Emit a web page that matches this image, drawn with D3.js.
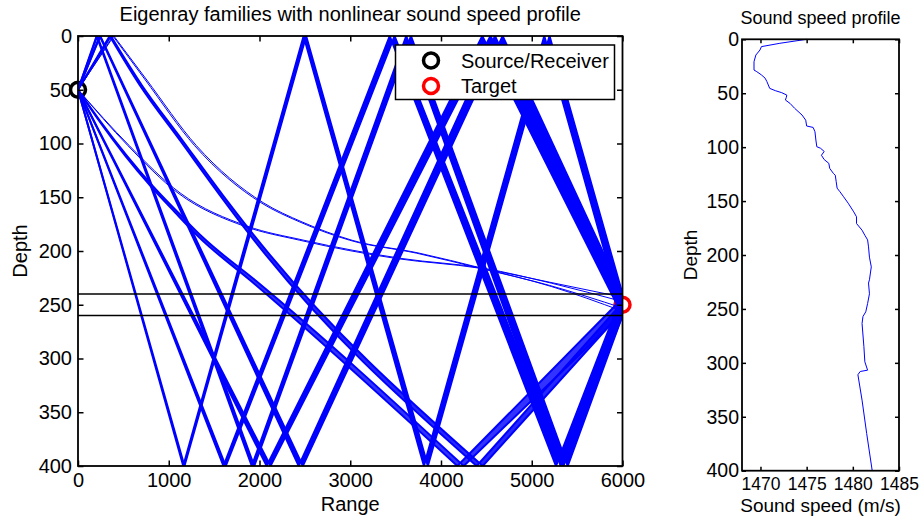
<!DOCTYPE html>
<html>
<head>
<meta charset="utf-8">
<script src="https://cdn.jsdelivr.net/npm/d3@7"></script>
<style>
  body { margin: 0; background: #fff; }
  text { font-family: "Liberation Sans", Arial, Helvetica, sans-serif; fill: #000; }
</style>
</head>
<body>
<svg id="chart" width="924" height="521"></svg>
<script>
// ---- data ----
const rangeTicks = [0, 1000, 2000, 3000, 4000, 5000, 6000]
const depthTicks = [0, 50, 100, 150, 200, 250, 300, 350, 400]
const speedTicks = [1470, 1475, 1480, 1485]
const targetZone = [240, 260]
const source = [0, 50]
const target = [6000, 250]
const legendLabels = ['Source/Receiver', 'Target']

// sound speed profile
const ssDepth = [0, 3.7, 6.8, 9.9, 14.6, 20.8, 28.5, 30, 33, 36, 39.3, 45.5, 47.6, 49.5, 51.7, 53.8, 56.3, 59.4, 64, 70.2,
  75, 80.4, 81.7, 85.7, 93.4, 99.6, 101, 104, 107.5, 111.5, 115, 119.7, 124.4, 126, 132, 138, 141.3, 146, 152, 160,
  164.6, 170.8, 177, 181.7, 186, 192.5, 202, 211, 223, 226, 236, 245, 252.7, 257, 263.5, 285, 299, 306.8, 308, 311,
  334.6, 365.5, 400]
const ssSpeed = [1475.0, 1472.1, 1470.1, 1469.95, 1469.5, 1469.3, 1469.3, 1469.6, 1470.1, 1470.5, 1470.7, 1471.0, 1471.6, 1472.3, 1472.85, 1472.8, 1472.7, 1473.2, 1473.7, 1474.5,
  1474.9, 1475.0, 1475.7, 1475.9, 1476.0, 1476.1, 1476.5, 1476.9, 1476.6, 1476.9, 1477.4, 1477.5, 1477.9, 1478.1, 1478.2, 1478.3, 1478.6, 1479.0, 1479.5, 1480.1,
  1480.4, 1480.4, 1481.0, 1481.3, 1481.6, 1481.7, 1481.8, 1482.0, 1481.8, 1481.7, 1481.8, 1481.6, 1481.4, 1481.1, 1481.0, 1481.2, 1481.3, 1481.6, 1480.8, 1480.55,
  1481.0, 1481.5, 1482.1]

// eigenray families: each one lists its edge rays as [range, depth] vertices
const ray45 = [
  [[0, 50], [1173, 400], [2514, 0], [3855, 400], [5196, 0], [6000, 240]],
  [[0, 50], [1160, 400], [2486, 0], [3812, 400], [5138, 0], [6000, 260]]
]
const ray35 = [
  [[0, 50], [205, 0], [1915, 400], [3617, 0], [5319, 400], [6000, 240]],
  [[0, 50], [212, 0], [1942, 400], [3669, 0], [5396, 400], [6000, 260]]
]
const ray325 = [
  [[0, 50], [1603, 400], [3435, 0], [5267, 400], [6000, 240]],
  [[0, 50], [1628, 400], [3488, 0], [5349, 400], [6000, 260]]
]
const ray275 = [
  [[0, 50], [245, 0], [2477, 400], [4679, 0], [6000, 240]],
  [[0, 50], [240, 0], [2432, 400], [4595, 0], [6000, 260]]
]
const ray25 = [
  [[0, 50], [2121, 400], [4545, 0], [6000, 240]],
  [[0, 50], [2079, 400], [4455, 0], [6000, 260]]
]
const ray125 = [
  [[0, 50], [242, 80], [517, 111], [793, 139], [1068, 164], [1343, 188], [1894, 227], [4180, 400], [6000, 244]],
  [[0, 50], [252, 80], [535, 111], [818, 139], [1100, 164], [1383, 188], [1950, 227], [4250, 400], [6000, 258]]
]
const ray15 = [
  [[0, 50], [349, 0], [683, 46], [1123, 97], [1563, 148], [1894, 185], [4393, 400], [6000, 248]],
  [[0, 50], [362, 0], [705, 46], [1150, 97], [1595, 148], [1935, 185], [4460, 400], [6000, 256]]
]
const ray05 = [
  [[0, 50], [550, 102], [1101, 146], [1835, 177], [2444, 190], [3509, 207], [4426, 216], [5196, 229], [6000, 243]],
  [[0, 50], [565, 102], [1125, 146], [1870, 177], [2490, 190], [3570, 207], [4470, 216], [5220, 230], [6000, 247]]
]
const ray075 = [
  [[0, 50], [385, 0], [734, 40], [1285, 102], [2015, 155], [2444, 173], [2994, 190], [3729, 202], [4426, 216], [5196, 232], [6000, 253]],
  [[0, 50], [395, 0], [750, 40], [1305, 102], [2040, 155], [2470, 173], [3020, 190], [3760, 202], [4450, 216], [5215, 233], [6000, 256]]
]
const bundles = [ray45, ray35, ray325, ray275, ray25, ray125, ray15]
const bundleOpacity = [1, 1, 1, 1, 1, 0.8, 0.85]
const thinRays = [ray05, ray075]

// ---- drawing ----
const svg = d3.select('#chart')
const blue = '#0000ff'

const x = d3.scaleLinear().domain([0, 6000]).range([78, 622.5])
const y = d3.scaleLinear().domain([0, 400]).range([36, 466])

const line = d3.line()
  .x(d => x(d[0]))
  .y(d => y(d[1]))
  .curve(d3.curveMonotoneX)

// split a ray at its surface / bottom bounces so corners stay sharp
function legs (pts) {
  const out = []
  let cur = [pts[0]]
  for (let i = 1; i < pts.length; i++) {
    cur.push(pts[i])
    const bounce = pts[i][1] === 0 || pts[i][1] === 400
    if (bounce && i < pts.length - 1) { out.push(cur); cur = [pts[i]] }
  }
  out.push(cur)
  return out
}
function rayPath (pts) {
  return legs(pts).map((l, i) => {
    const s = line(l)
    return i ? 'L' + s.slice(1) : s
  }).join('')
}

svg.append('defs').append('clipPath').attr('id', 'plotclip')
  .append('rect')
  .attr('x', x(0)).attr('y', y(0))
  .attr('width', x(6000) - x(0)).attr('height', y(400) - y(0))

// markers (drawn under the rays)
const markers = svg.append('g')
markers.append('circle')
  .attr('cx', x(source[0])).attr('cy', y(source[1])).attr('r', 7.5)
  .attr('fill', 'none').attr('stroke', '#000').attr('stroke-width', 3.5)
markers.append('circle')
  .attr('cx', x(target[0])).attr('cy', y(target[1])).attr('r', 7.5)
  .attr('fill', 'none').attr('stroke', '#ff0000').attr('stroke-width', 3.5)

const rays = svg.append('g').attr('clip-path', 'url(#plotclip)')
bundles.forEach((fam, i) => {
  const a = fam[0]
  const b = fam[1].slice().reverse()
  rays.append('path')
    .attr('d', rayPath(a) + 'L' + rayPath(b).slice(1) + 'Z')
    .attr('fill', blue)
    .attr('fill-opacity', bundleOpacity[i])
    .attr('stroke', 'none')
  fam.forEach(r => {
    rays.append('path')
      .attr('d', rayPath(r))
      .attr('fill', 'none')
      .attr('stroke', blue)
      .attr('stroke-width', 2)
      .attr('stroke-linejoin', 'round')
  })
})
thinRays.forEach(fam => {
  fam.forEach(r => {
    rays.append('path')
      .attr('d', rayPath(r))
      .attr('fill', 'none')
      .attr('stroke', blue)
      .attr('stroke-width', 1)
      .attr('stroke-linejoin', 'round')
  })
})

// target depth window
svg.append('g').selectAll('line')
  .data(targetZone)
  .enter()
  .append('line')
  .attr('x1', x(0)).attr('x2', x(6000))
  .attr('y1', d => y(d)).attr('y2', d => y(d))
  .attr('stroke', '#000').attr('stroke-width', 1.5)

// axes, MATLAB style: box with inward ticks
function styleAxis (g, size) {
  g.select('.domain').remove()
  g.selectAll('.tick line').attr('stroke', '#000').attr('stroke-width', 1.5)
  g.selectAll('text').attr('font-size', size).attr('font-family', '"Liberation Sans", Arial, sans-serif')
}
const tick = 5.5

svg.append('g')
  .attr('transform', 'translate(0,' + y(400) + ')')
  .call(d3.axisBottom(x).tickValues(rangeTicks).tickSize(-tick).tickPadding(7).tickFormat(d3.format('d')))
  .call(g => styleAxis(g, 20))
svg.append('g')
  .attr('transform', 'translate(0,' + y(0) + ')')
  .call(d3.axisTop(x).tickValues(rangeTicks).tickSize(-tick).tickFormat(''))
  .call(g => styleAxis(g, 20))
svg.append('g')
  .attr('transform', 'translate(' + x(0) + ',0)')
  .call(d3.axisLeft(y).tickValues(depthTicks).tickSize(-tick).tickPadding(6))
  .call(g => styleAxis(g, 20))
svg.append('g')
  .attr('transform', 'translate(' + x(6000) + ',0)')
  .call(d3.axisRight(y).tickValues(depthTicks).tickSize(-tick).tickFormat(''))
  .call(g => styleAxis(g, 20))
svg.append('rect')
  .attr('x', x(0)).attr('y', y(0))
  .attr('width', x(6000) - x(0)).attr('height', y(400) - y(0))
  .attr('fill', 'none').attr('stroke', '#000').attr('stroke-width', 1.8)

svg.append('text')
  .attr('x', (x(0) + x(6000)) / 2).attr('y', 21)
  .attr('text-anchor', 'middle').attr('font-size', 20)
  .text('Eigenray families with nonlinear sound speed profile')
svg.append('text')
  .attr('x', (x(0) + x(6000)) / 2).attr('y', 511)
  .attr('text-anchor', 'middle').attr('font-size', 20)
  .text('Range')
svg.append('text')
  .attr('transform', 'translate(27,' + (y(0) + y(400)) / 2 + ') rotate(-90)')
  .attr('text-anchor', 'middle').attr('font-size', 20)
  .text('Depth')

// legend
const legend = svg.append('g')
legend.append('rect')
  .attr('x', 395.5).attr('y', 45).attr('width', 219).attr('height', 54.5)
  .attr('fill', '#fff').attr('stroke', '#000').attr('stroke-width', 1.5)
const legendColors = ['#000', '#ff0000']
legendLabels.forEach((lab, i) => {
  const ly = 60.5 + i * 25.5
  legend.append('circle')
    .attr('cx', 431).attr('cy', ly).attr('r', 7.5)
    .attr('fill', 'none').attr('stroke', legendColors[i]).attr('stroke-width', 3.5)
  legend.append('text')
    .attr('x', 461).attr('y', ly + 7.3).attr('font-size', 20)
    .text(lab)
})

// ---- sound speed profile panel ----
const sx = d3.scaleLinear().domain([1468, 1485]).range([742, 899])
const sy = d3.scaleLinear().domain([0, 400]).range([39.3, 470.7])
const ssPoints = ssDepth.map((d, i) => [ssSpeed[i], d])

svg.append('path')
  .datum(ssPoints)
  .attr('d', d3.line().x(d => sx(d[0])).y(d => sy(d[1])))
  .attr('fill', 'none').attr('stroke', blue).attr('stroke-width', 1)

const tick2 = 4
svg.append('g')
  .attr('transform', 'translate(0,' + sy(400) + ')')
  .call(d3.axisBottom(sx).tickValues(speedTicks).tickSize(-tick2).tickPadding(7).tickFormat(d3.format('d')))
  .call(g => styleAxis(g, 17.5))
svg.append('g')
  .attr('transform', 'translate(0,' + sy(0) + ')')
  .call(d3.axisTop(sx).tickValues(speedTicks).tickSize(-tick2).tickFormat(''))
  .call(g => styleAxis(g, 17.5))
svg.append('g')
  .attr('transform', 'translate(' + sx(1468) + ',0)')
  .call(d3.axisLeft(sy).tickValues(depthTicks).tickSize(-tick2).tickPadding(3))
  .call(g => styleAxis(g, 19.5))
svg.append('g')
  .attr('transform', 'translate(' + sx(1485) + ',0)')
  .call(d3.axisRight(sy).tickValues(depthTicks).tickSize(-tick2).tickFormat(''))
  .call(g => styleAxis(g, 19.5))
svg.append('rect')
  .attr('x', sx(1468)).attr('y', sy(0))
  .attr('width', sx(1485) - sx(1468)).attr('height', sy(400) - sy(0))
  .attr('fill', 'none').attr('stroke', '#000').attr('stroke-width', 1.8)

svg.append('text')
  .attr('x', (sx(1468) + sx(1485)) / 2).attr('y', 24)
  .attr('text-anchor', 'middle').attr('font-size', 18)
  .text('Sound speed profile')
svg.append('text')
  .attr('x', (sx(1468) + sx(1485)) / 2).attr('y', 512)
  .attr('text-anchor', 'middle').attr('font-size', 19)
  .text('Sound speed (m/s)')
svg.append('text')
  .attr('transform', 'translate(697,' + (sy(0) + sy(400)) / 2 + ') rotate(-90)')
  .attr('text-anchor', 'middle').attr('font-size', 19)
  .text('Depth')
</script>
</body>
</html>
